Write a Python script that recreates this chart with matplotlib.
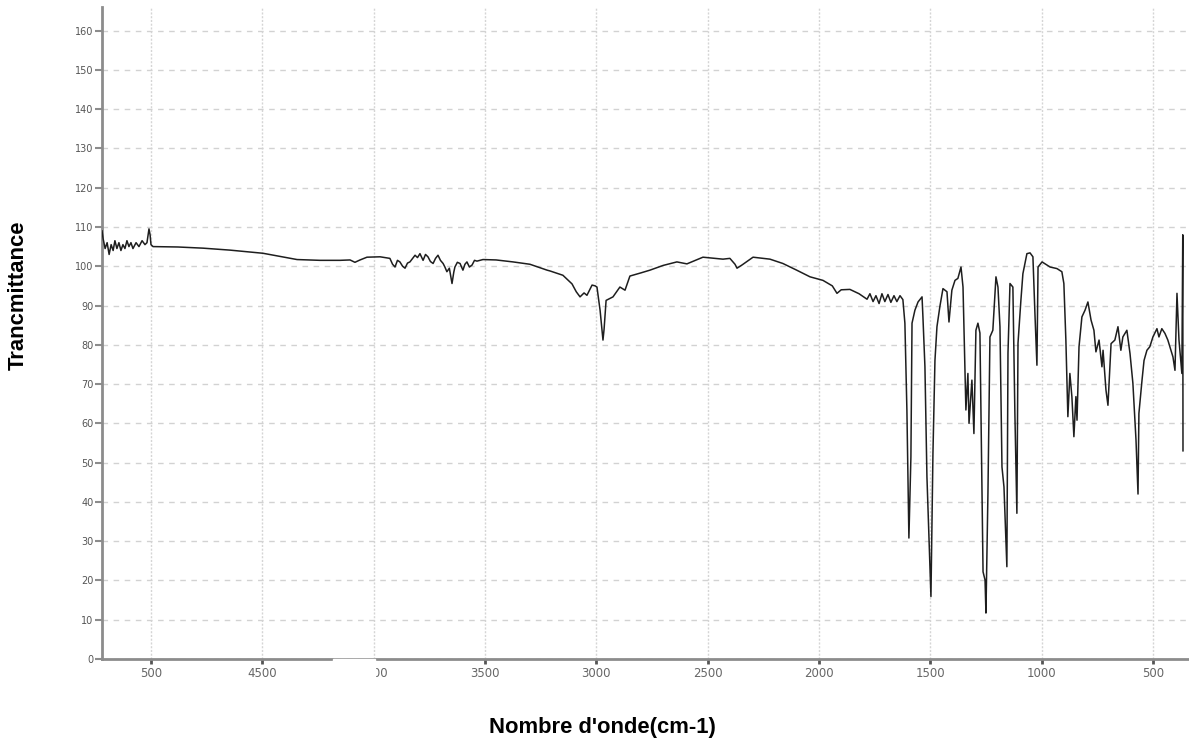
import matplotlib
matplotlib.use("Agg")
import matplotlib.pyplot as plt
from matplotlib.patches import Rectangle

# ---- data (wavenumber cm-1, transmittance) --------------------------------
wavenumber = [
    5220, 5215, 5206, 5197, 5188, 5179, 5170, 5162, 5153, 5144, 5135, 5126,
    5117, 5108, 5099, 5090, 5081, 5067, 5054, 5040, 5027, 5018, 5009, 5004, 5000,
    4991, 4880, 4766, 4645, 4497, 4420, 4344, 4241, 4151, 4106, 4084, 4061,
    4030, 3971,
    3950, 3927, 3915, 3904, 3893, 3882, 3870, 3859, 3848, 3837, 3825, 3814,
    3803, 3792, 3778, 3767, 3756, 3745, 3733, 3722, 3711, 3700, 3688, 3680,
    3671, 3660, 3648, 3640, 3635, 3624, 3612, 3599, 3590, 3581, 3570, 3558,
    3547, 3536, 3509,
    3450, 3374, 3298, 3221, 3208, 3150, 3109, 3090, 3073, 3055, 3042, 3019,
    3005, 2997, 2983, 2970, 2965, 2956, 2925, 2894, 2871, 2849, 2800, 2759,
    2700, 2638, 2593, 2521, 2431, 2400, 2377, 2368, 2346, 2296, 2220, 2162,
    2100, 2040, 1982, 1940, 1919, 1900, 1861, 1820, 1784,
    1771, 1757, 1744, 1730, 1717, 1704, 1690, 1677, 1663, 1650, 1636, 1623,
    1614, 1605, 1596, 1587, 1582, 1569, 1555, 1537, 1533, 1524, 1515, 1497,
    1488, 1479, 1470, 1457, 1443, 1425, 1416, 1403, 1389, 1376, 1362, 1353,
    1340, 1331, 1326, 1313, 1304, 1295, 1286, 1277, 1263, 1254, 1250, 1241,
    1232, 1219, 1205, 1196, 1187, 1178, 1169, 1156, 1151, 1142, 1129, 1120,
    1111, 1106, 1093, 1084, 1066, 1052, 1039, 1030, 1021, 1016, 998, 962,
    931, 909, 900, 891, 882, 873, 864, 855, 846, 841, 832, 819, 805, 792,
    778, 765, 756, 742, 729, 724, 711, 702, 688, 671, 657, 644, 635, 617,
    603, 590, 576, 567, 563, 549, 540, 527, 514, 500, 482, 473, 460, 446,
    433, 410, 401, 392, 383, 370, 366, 365,
]
transmittance = [
    109, 107, 104.5, 106, 103, 105.5, 104, 106.5, 104.5, 106, 104, 105.5,
    104.5, 106.5, 105, 106, 104.5, 106, 105, 106.5, 105.5, 106, 109.5, 108, 105.5,
    105, 104.9, 104.6, 104.1, 103.3, 102.5, 101.7, 101.5, 101.5, 101.6, 101.0, 101.6,
    102.3, 102.4,
    102.2, 102, 100.5, 99.8, 101.5, 101.1, 100, 99.5, 100.8, 101.1, 102, 102.8,
    102.2, 103.2, 101.5, 103, 102.4, 101.2, 100.7, 102, 102.8, 101.5, 100.7, 99.8,
    98.6, 99.5, 95.6, 98.5, 99.8, 101, 100.7, 99, 100.5, 101.1, 99.8, 100.3,
    101.5, 101.3, 101.7,
    101.6, 101.1, 100.5, 99, 98.8, 97.7, 95.5, 93.5, 92.2, 93.2, 92.6, 95.2,
    95.0, 94.7, 88.8, 81.2, 84, 91.3, 92.2, 94.7, 93.9, 97.5, 98.3, 99,
    100.2, 101.1, 100.6, 102.3, 101.8, 102, 100.5, 99.5, 100.3, 102.3, 101.8, 100.7,
    99, 97.3, 96.4, 95, 93.1, 94, 94.1, 93, 91.6,
    93, 91, 92.5, 90.5, 93, 91, 92.8, 90.8, 92.5, 91, 92.5, 91.5,
    85.5, 63.4, 30.8, 51.4, 85.5, 88.8, 90.9, 92.2, 87.1, 74.4, 46.4, 15.9,
    52.4, 76, 84.6, 89.7, 94.3, 93.5, 85.8, 93.9, 96.4, 96.9, 99.8, 94.7,
    63.4, 72.7, 60, 71, 57.4, 83.7, 85.5, 83, 22.2, 20.1, 11.7, 42.2,
    82, 83.7, 97.3, 94.7, 84.6, 48.9, 43.8, 23.5, 77.9, 95.6, 94.7, 62.5,
    37.1, 80.4, 91.3, 98.1, 103.2, 103.4, 102.4, 88, 74.8, 99.8, 101.1, 99.8,
    99.4, 98.6, 95.6, 81.2, 61.7, 72.7, 66.8, 56.6, 66.8, 60.8, 79.5, 87.1, 88.8, 90.9,
    86.3, 83.7, 78.2, 81.2, 74.4, 78.6, 68.5, 64.6, 80.3, 81.2, 84.6, 78.6, 82, 83.7,
    77.8, 70.2, 55.7, 42, 62.5, 71, 76, 78.6, 79.5, 82, 84.1, 82, 84.1, 82.9,
    81.2, 76.9, 73.5, 93.1, 81.2, 72.7, 108, 53,
]

x_ticks = [5000, 4500, 4000, 3500, 3000, 2500, 2000, 1500, 1000, 500]
x_tick_labels = ["500", "4500", "4000", "3500", "3000", "2500", "2000",
                 "1500", "1000", "500"]
y_ticks = list(range(0, 170, 10))

W, H = 1189, 738
fig = plt.figure(figsize=(W / 100, H / 100), dpi=100)
ax = fig.add_axes([102 / W, 1 - 659 / H, 1 - 102 / W, (659 - 7) / H])

ax.plot(wavenumber, transmittance, color="#1e1e1e", lw=1.1, zorder=3)

ax.set_xlim(5220, 338)
ax.set_ylim(0, 166)
ax.set_xticks(x_ticks)
ax.set_xticklabels(x_tick_labels)
ax.set_yticks(y_ticks)

# grid: dashed horizontal, finely dotted vertical
ax.grid(axis="y", color="#d2d2d2", ls=(0, (4, 4)), lw=1)
ax.grid(axis="x", color="#d5d5d5", ls=(0, (1.5, 1.2)), lw=1)
ax.set_axisbelow(True)

for side in ("top", "right"):
    ax.spines[side].set_visible(False)
for side in ("left", "bottom"):
    ax.spines[side].set_color("#8c8c8c")
    ax.spines[side].set_linewidth(2)

ax.tick_params(axis="y", direction="out", length=5, width=1.5, color="#8c8c8c",
               labelsize=7, labelcolor="#555555", pad=1)
ax.tick_params(axis="x", direction="out", length=3.5, width=2, color="#555555",
               labelsize=8.5, labelcolor="#666666", pad=2.5)

fig.text(18 / W, 1 - 295 / H, "Trancmittance", rotation=90, ha="center",
         va="center", fontsize=15.8, fontweight="bold", family="Liberation Sans")
fig.text(602 / W, 1 - 727 / H, "Nombre d'onde(cm-1)", ha="center", va="center",
         fontsize=15.8, fontweight="bold", family="Liberation Sans")

# white patch hiding part of the axis near 4000 in the original picture
fig.add_artist(Rectangle((333 / W, 1 - 682 / H), 42 / W, 23 / H,
                         transform=fig.transFigure, color="white", zorder=10))

fig.savefig("out.png", dpi=100)
